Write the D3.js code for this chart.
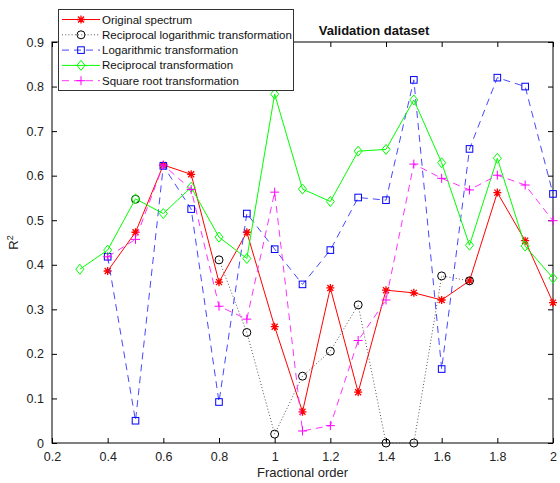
<!DOCTYPE html>
<html>
<head>
<meta charset="utf-8">
<script src="https://cdn.jsdelivr.net/npm/d3@7/dist/d3.min.js"></script>
<style>
  html, body { margin: 0; padding: 0; background: #fff; }
  svg { display: block; font-family: "Liberation Sans", Arial, sans-serif; }
</style>
</head>
<body>
<svg id="chart" width="560" height="483"></svg>
<script>
// Fractional orders (x positions shared by every series)
const orders = [0.3, 0.4, 0.5, 0.6, 0.7, 0.8, 0.9, 1.0, 1.1, 1.2, 1.3, 1.4, 1.5, 1.6, 1.7, 1.8, 1.9, 2.0];

// R^2 values per transformation (null = not available)
const originalSpectrum = [null, 0.386, 0.473, 0.624, 0.603, 0.361, 0.473, 0.261, 0.070, 0.348, 0.114, 0.343, 0.337, 0.321, 0.364, 0.562, 0.454, 0.315];
const reciprocalLog    = [null, null, 0.547, null, null, 0.411, 0.248, 0.020, 0.150, 0.206, 0.310, 0.000, 0.000, 0.375, 0.364, null, null, null];
const logarithmic      = [null, 0.418, 0.050, 0.622, 0.525, 0.092, 0.515, 0.435, 0.356, 0.433, 0.551, 0.545, 0.815, 0.166, 0.660, 0.820, 0.800, 0.559];
const reciprocal       = [0.390, 0.433, 0.548, 0.515, 0.574, 0.462, 0.414, 0.783, 0.570, 0.542, 0.655, 0.659, 0.770, 0.629, 0.444, 0.639, 0.442, 0.370];
const squareRoot       = [null, 0.418, 0.457, 0.624, 0.569, 0.307, 0.278, 0.563, 0.027, 0.039, 0.230, 0.321, 0.626, 0.594, 0.568, 0.601, 0.579, 0.499];

const seriesNames = ["Original spectrum", "Reciprocal logarithmic transformation", "Logarithmic transformation", "Reciprocal transformation", "Square root transformation"];

const xTicks = [0.2, 0.4, 0.6, 0.8, 1.0, 1.2, 1.4, 1.6, 1.8, 2.0];
const yTicks = [0, 0.1, 0.2, 0.3, 0.4, 0.5, 0.6, 0.7, 0.8, 0.9];

const titleText = "Validation dataset";
const xLabel = "Fractional order";

const svg = d3.select("#chart");
const m = { left: 52, right: 7, top: 42, bottom: 40 };
const W = 560, H = 483;
const x = d3.scaleLinear().domain([0.2, 2]).range([m.left, W - m.right]);
const y = d3.scaleLinear().domain([0, 0.9]).range([H - m.bottom, m.top]);

const styles = [
  { values: originalSpectrum, color: "#ff0000", lineColor: "#ff0000", dash: null, marker: "asterisk" },
  { values: reciprocalLog,    color: "#000000", lineColor: "#555555", dash: "1,2.2", marker: "circle" },
  { values: logarithmic,      color: "#0000ff", lineColor: "#4848ff", dash: "7,5", marker: "square" },
  { values: reciprocal,       color: "#00ff00", lineColor: "#00ff00", dash: null, marker: "diamond" },
  { values: squareRoot,       color: "#ff00ff", lineColor: "#ff33ff", dash: "7,5", marker: "plus" }
];

// Axes with inward ticks on all four sides
const axG = svg.append("g");
function tickAxis(axis, transform) {
  const g = axG.append("g").attr("transform", transform).call(axis);
  g.selectAll(".domain").remove();
  g.selectAll("line").attr("stroke", "#000");
  g.selectAll("text").attr("fill", "#222").style("font-size", "12.5px");
  return g;
}
const fmt = d => (d === 0 ? "0" : d === 1 ? "1" : d === 2 ? "2" : d3.format(".1f")(d));
tickAxis(d3.axisBottom(x).tickValues(xTicks).tickFormat(fmt).tickSizeInner(-5).tickSizeOuter(0).tickPadding(9), `translate(0,${y(0)})`);
tickAxis(d3.axisTop(x).tickValues(xTicks).tickFormat("").tickSizeInner(-5).tickSizeOuter(0), `translate(0,${y(0.9)})`);
tickAxis(d3.axisLeft(y).tickValues(yTicks).tickFormat(fmt).tickSizeInner(-5).tickSizeOuter(0).tickPadding(8), `translate(${x(0.2)},0)`);
tickAxis(d3.axisRight(y).tickValues(yTicks).tickFormat("").tickSizeInner(-5).tickSizeOuter(0), `translate(${x(2)},0)`);

axG.append("rect")
  .attr("x", x(0.2)).attr("y", y(0.9))
  .attr("width", x(2) - x(0.2)).attr("height", y(0) - y(0.9))
  .attr("fill", "none").attr("stroke", "#000").attr("stroke-width", 1);

// Marker drawing
function drawMarker(g, type, cx, cy, color) {
  const s = g.append("g").attr("transform", `translate(${cx},${cy})`)
    .attr("fill", "none").attr("stroke", color).attr("stroke-width", 1);
  if (type === "circle") {
    s.append("circle").attr("r", 4);
  } else if (type === "square") {
    s.append("rect").attr("x", -3.3).attr("y", -3.3).attr("width", 6.6).attr("height", 6.6);
  } else if (type === "diamond") {
    s.append("path").attr("d", "M0,-5L4,0L0,5L-4,0Z");
  } else if (type === "plus") {
    s.append("path").attr("d", "M-4.5,0H4.5M0,-4.5V4.5");
  } else if (type === "asterisk") {
    s.append("path").attr("d", "M-4,0H4M0,-4V4M-3,-3L3,3M-3,3L3,-3").attr("stroke-width", 1.3);
  }
}

const plotG = svg.append("g");
styles.forEach(st => {
  const pts = orders.map((o, i) => ({ o, v: st.values[i] }));
  const line = d3.line().defined(d => d.v !== null).x(d => x(d.o)).y(d => y(d.v));
  plotG.append("path").datum(pts)
    .attr("d", line)
    .attr("fill", "none")
    .attr("stroke", st.lineColor)
    .attr("stroke-width", 1)
    .attr("stroke-dasharray", st.dash);
  const mg = plotG.append("g");
  pts.filter(d => d.v !== null).forEach(d => drawMarker(mg, st.marker, x(d.o), y(d.v), st.color));
});

// Title and axis labels
svg.append("text").attr("x", 374).attr("y", 35).attr("text-anchor", "middle")
  .style("font-size", "13px").style("font-weight", "bold").attr("fill", "#111").text(titleText);
svg.append("text").attr("x", (x(0.2) + x(2)) / 2).attr("y", 477).attr("text-anchor", "middle")
  .style("font-size", "13px").attr("fill", "#222").text(xLabel);
const yl = svg.append("text").attr("transform", `translate(18,${(y(0) + y(0.9)) / 2}) rotate(-90)`)
  .attr("text-anchor", "middle").style("font-size", "13px").attr("fill", "#222");
yl.append("tspan").text("R");
yl.append("tspan").attr("dy", -5).style("font-size", "9px").text("2");

// Legend
const lg = svg.append("g");
lg.append("rect").attr("x", 58.5).attr("y", 9.5).attr("width", 235).attr("height", 81)
  .attr("fill", "#fff").attr("stroke", "#333").attr("stroke-width", 1);
seriesNames.forEach((name, i) => {
  const st = styles[i];
  const yy = 19.5 + i * 15.3;
  lg.append("line").attr("x1", 62).attr("x2", 100).attr("y1", yy).attr("y2", yy)
    .attr("stroke", st.lineColor).attr("stroke-width", 1).attr("stroke-dasharray", st.dash);
  drawMarker(lg, st.marker, 81, yy, st.color);
  lg.append("text").attr("x", 102).attr("y", yy + 4).style("font-size", "11.5px").attr("fill", "#111").text(name);
});
</script>
</body>
</html>
